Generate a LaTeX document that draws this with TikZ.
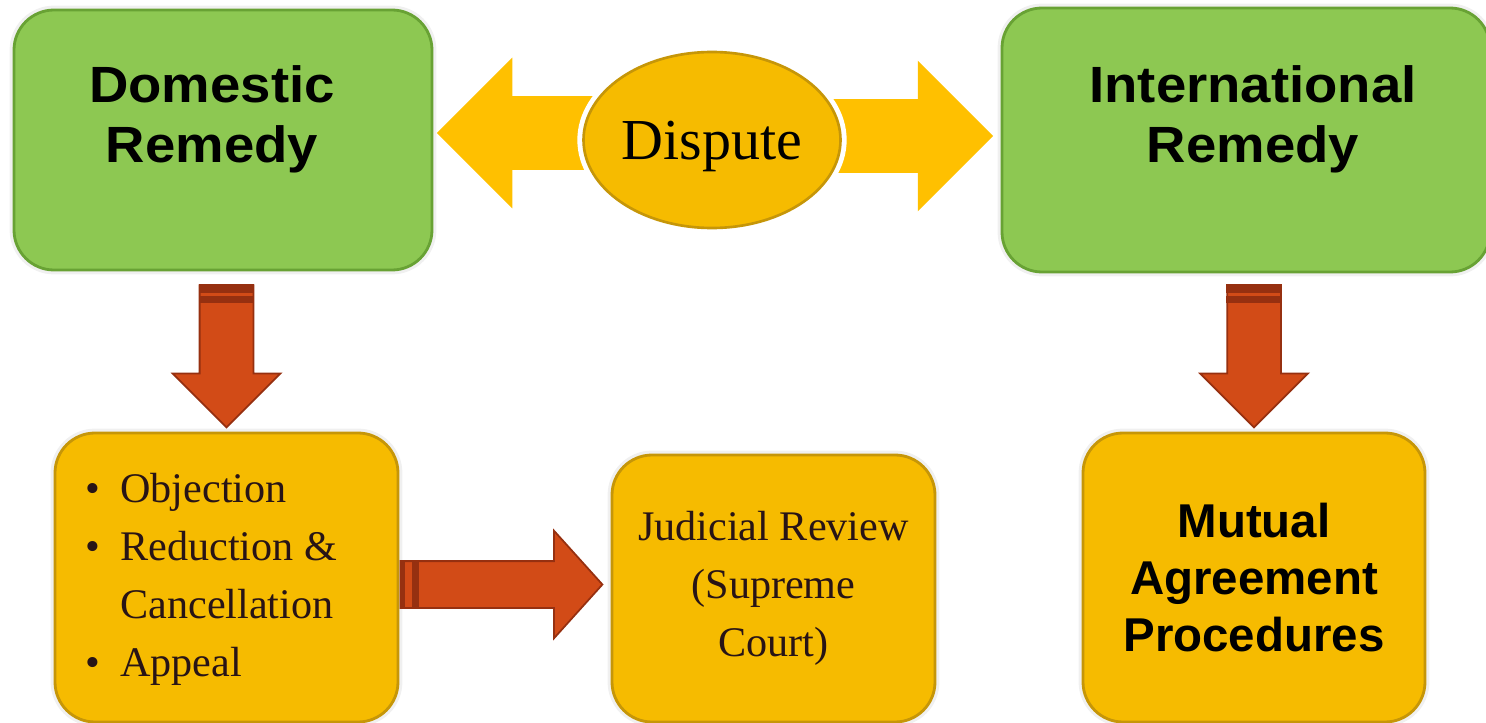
\documentclass[tikz,border=0pt]{standalone}
\usepackage{fontspec}
\setmainfont{Liberation Serif}
\setsansfont{Liberation Sans}
\newfontfamily\widesans[FakeStretch=1.07]{Liberation Sans}
\usepackage{tikz}
\usetikzlibrary{positioning, shapes.geometric, shapes.arrows, calc}
\definecolor{LeafGreen}{RGB}{141,200,82}
\definecolor{LeafEdge}{RGB}{104,162,52}
\definecolor{Amber}{RGB}{246,187,0}
\definecolor{AmberEdge}{RGB}{198,150,8}
\definecolor{ArrowGold}{RGB}{255,192,0}
\definecolor{RustRed}{RGB}{210,75,23}
\definecolor{RustEdge}{RGB}{150,48,16}
\definecolor{InkBrown}{RGB}{40,20,22}
\tikzset{
  greenbox/.style={draw=LeafEdge, line width=1.6pt, fill=LeafGreen, rounded corners=0.8cm,
    inner sep=0pt, preaction={draw=black!6, line width=5pt}},
  goldbox/.style={draw=AmberEdge, line width=1.6pt, fill=Amber, rounded corners=0.8cm,
    inner sep=0pt, preaction={draw=black!6, line width=5pt}},
  headtext/.style={font=\widesans\bfseries\fontsize{29}{34}\selectfont, align=center, inner sep=0pt},
  serifnote/.style={font=\fontsize{24}{33}\selectfont, text=InkBrown},
  goldarrow/.style={single arrow, fill=ArrowGold, inner sep=0.73cm,
    single arrow head extend=0.77cm, minimum width=0pt},
  redarrow/.style={single arrow, fill=RustRed, draw=RustEdge, line width=1pt, minimum width=0pt},
  tailband/.style={fill=RustEdge},
}

\begin{document}
\begin{tikzpicture}
  \useasboundingbox (0,0) rectangle (29.72,-14.46);
  % top row
  \node[greenbox, minimum width=8.36cm, minimum height=5.2cm] (domestic) at (4.46,-2.8) {};
  \node[headtext] (domtitle) at (4.24,-2.38) {Domestic\\Remedy};
  \node[greenbox, minimum width=9.76cm, minimum height=5.28cm] (international) at (24.92,-2.8) {};
  \node[headtext] (inttitle) at (25.06,-2.38) {International\\Remedy};
  \node[goldarrow, shape border rotate=180, minimum height=3.2cm, anchor=tip] (toDomestic)
    at ([xshift=0.06cm, yshift=0.14cm]domestic.east) {};
  \node[goldarrow, minimum height=3.3cm, anchor=tip] (toInternational)
    at ([xshift=-0.14cm, yshift=0.08cm]international.west) {};
  \node[ellipse, fill=Amber, draw=AmberEdge, line width=1.5pt, preaction={draw=white, line width=7pt},
    inner xsep=-4pt, inner ysep=0pt, minimum width=5.14cm, minimum height=3.52cm,
    font=\fontsize{33}{40}\selectfont, text depth=0pt]
    (dispute) at (14.24,-2.8) {Dispute};
  % bottom row
  \node[goldbox, minimum width=6.86cm, minimum height=5.78cm] (domlist) at (4.53,-11.55) {};
  \node[serifnote, align=left, anchor=west, inner sep=0pt] (domlisttext) at (1.7,-11.58)
    {\makebox[0.7cm][l]{\textbullet}Objection\\
     \makebox[0.7cm][l]{\textbullet}Reduction \&\\
     \makebox[0.7cm][l]{}Cancellation\\
     \makebox[0.7cm][l]{\textbullet}Appeal};
  \node[goldbox, serifnote, align=center, minimum width=6.46cm, minimum height=5.34cm] (review)
    at (15.47,-11.77) {Judicial Review\\(Supreme\\Court)};
  \node[goldbox, align=center, minimum width=6.84cm, minimum height=5.78cm,
    font=\sffamily\bfseries\fontsize{27}{32.4}\selectfont] (mutual) at (25.08,-11.55)
    {Mutual\\Agreement\\Procedures};
  % red arrows
  \node[redarrow, shape border rotate=270, inner sep=0.52cm, single arrow head extend=0.54cm,
    minimum height=2.84cm, anchor=tip] (domDown) at ([yshift=0.06cm]domlist.north) {};
  \node[redarrow, shape border rotate=270, inner sep=0.52cm, single arrow head extend=0.54cm,
    minimum height=2.84cm, anchor=tip] (intDown) at ([yshift=0.06cm]mutual.north) {};
  \node[redarrow, inner sep=0.45cm, single arrow head extend=0.61cm, single arrow tip angle=96,
    minimum height=4.04cm, anchor=tip] (toReview) at ([xshift=-0.14cm, yshift=0.08cm]review.west) {};
  \foreach \a in {domDown, intDown} {
    \fill[tailband] (\a.before tail) rectangle ([yshift=-0.18cm]\a.after tail);
    \fill[tailband] ([yshift=-0.24cm]\a.before tail) rectangle ([yshift=-0.38cm]\a.after tail);
  }
  \fill[tailband] (toReview.before tail) rectangle ([xshift=0.1cm]toReview.after tail);
  \fill[tailband] ([xshift=0.24cm]toReview.before tail) rectangle ([xshift=0.38cm]toReview.after tail);
\end{tikzpicture}
\end{document}
